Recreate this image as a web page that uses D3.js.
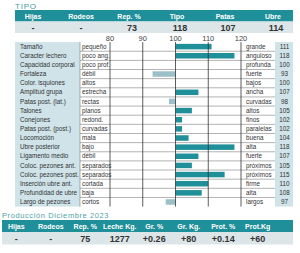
<!DOCTYPE html>
<html><head><meta charset="utf-8">
<script src="https://cdn.jsdelivr.net/npm/d3@7"></script>
<style>
html,body{margin:0;padding:0;background:#fff;}
svg{display:block;font-family:"Liberation Sans Narrow","Liberation Sans",Arial,sans-serif;}
</style></head>
<body>
<svg id="c" width="300" height="253"></svg>
<script>
const topHeaders = ["Hijas","Rodeos","Rep. %","Tipo","Patas","Ubre"];
const topValues = ["-","-","73","118","107","114"];
const traits = ["Tamaño","Caracter lechero","Capacidad corporal","Fortaleza","Color. isquiones","Amplitud grupa","Patas post. (lat.)","Talones","Conejones","Patas post. (post.)","Locomoción","Ubre posterior","Ligamento medio","Coloc. pezones ant.","Coloc. pezones post.","Inserción ubre ant.","Profundidad de ubre","Largo de pezones"];
const lowLabels = ["pequeño","poco ang.","poco prof.","débil","altos","estrecha","rectas","planos","redond.","curvadas","mala","bajo","débil","separados","separados","cortada","baja","cortos"];
const highLabels = ["grande","anguloso","profunda","fuerte","bajos","ancha","curvadas","altos","finos","paralelas","buena","alta","fuerte","próximos","próximos","firme","alta","largos"];
const traitValues = [111,118,100,93,100,107,98,105,102,102,104,118,107,105,115,110,108,97];
const axisTicks = [80,90,100,110,120];
const prodHeaders = ["Hijas","Rodeos","Rep. %","Leche Kg.","Gr. %","Gr. Kg.","Prot. %","Prot.Kg"];
const prodValues = ["-","-","75","1277","+0.26","+80","+0.14","+60"];

const teal = "#1f8f99", light = "#dce6e9", colBg = "#cfe3e9", neg = "#9cc0c9", txt = "#333";
const svg = d3.select("#c");

// Title
svg.append("text").attr("x",15).attr("y",9).attr("font-size",8).attr("fill","#3d9aa1")
  .attr("letter-spacing",0.8).text("TIPO");

// Top header table
const tx = d3.scaleBand().domain(topHeaders).range([9,297]);
svg.append("rect").attr("x",15).attr("y",10).attr("width",278).attr("height",11.5).attr("fill",teal);
svg.append("rect").attr("x",15).attr("y",21.5).attr("width",278).attr("height",11.5).attr("fill",light);
svg.selectAll(".th").data(topHeaders).join("text")
  .attr("x",d=>tx(d)+tx.bandwidth()/2).attr("y",18.5).attr("text-anchor","middle")
  .attr("font-size",7).attr("font-weight","bold").attr("fill","#fff").attr("font-family","Liberation Sans, Arial").text(d=>d);
svg.selectAll(".tv").data(topValues).join("text")
  .attr("x",(d,i)=>tx(topHeaders[i])+tx.bandwidth()/2+ (i>=2?3:0)).attr("y",31).attr("text-anchor","middle")
  .attr("font-size",9).attr("font-weight","bold").attr("fill",txt).attr("font-family","Liberation Sans, Arial").text(d=>d);

// Trait chart
const x = d3.scaleLinear().domain([80,120]).range([110,241]);
const y = d3.scaleBand().domain(traits).range([42.1,206.6]);
const top0 = y.range()[0], bot = y.range()[1];

svg.append("rect").attr("x",15).attr("y",top0).attr("width",65).attr("height",bot-top0).attr("fill",colBg);
svg.append("rect").attr("x",275).attr("y",top0).attr("width",18).attr("height",bot-top0).attr("fill",colBg);

// row lines
svg.selectAll(".rl").data(traits.slice(1)).join("line")
  .attr("x1",80).attr("x2",275).attr("y1",d=>y(d)).attr("y2",d=>y(d))
  .attr("stroke","#666").attr("stroke-width",0.5);

// bars
svg.selectAll(".bar").data(traitValues).join("rect")
  .attr("x",d=>x(Math.min(d,100))).attr("width",d=>Math.abs(x(d)-x(100)))
  .attr("y",(d,i)=>y(traits[i])+y.bandwidth()/2-2.8).attr("height",5.5)
  .attr("fill",d=>d>=100?teal:neg);

// vertical gridlines
svg.selectAll(".gl").data(axisTicks).join("line")
  .attr("x1",d=>x(d)).attr("x2",d=>x(d)).attr("y1",top0).attr("y2",bot)
  .attr("stroke","#333").attr("stroke-width",0.8);
svg.append("line").attr("x1",80).attr("x2",80).attr("y1",top0).attr("y2",bot).attr("stroke","#666").attr("stroke-width",0.5);

// tick labels
svg.selectAll(".tk").data(axisTicks).join("text")
  .attr("x",d=>x(d)).attr("y",40.5).attr("text-anchor","middle")
  .attr("font-size",7.5).attr("fill","#444").text(d=>d);

// labels
svg.selectAll(".tl").data(traits).join("text")
  .attr("x",20).attr("y",d=>y(d)+y.bandwidth()/2+2.1).attr("font-size",6.3).attr("fill",txt).text(d=>d);
svg.selectAll(".ll").data(lowLabels).join("text")
  .attr("x",82).attr("y",(d,i)=>y(traits[i])+y.bandwidth()/2+2.1).attr("font-size",6.3).attr("fill",txt).text(d=>d);
svg.selectAll(".hl").data(highLabels).join("text")
  .attr("x",246).attr("y",(d,i)=>y(traits[i])+y.bandwidth()/2+2.1).attr("font-size",6.3).attr("fill",txt).text(d=>d);
svg.selectAll(".vl").data(traitValues).join("text")
  .attr("x",284.5).attr("y",(d,i)=>y(traits[i])+y.bandwidth()/2+2.1).attr("text-anchor","middle")
  .attr("font-size",6.3).attr("fill",txt).text(d=>d);

// Production
svg.append("text").attr("x",2).attr("y",217.5).attr("font-size",7.5).attr("fill","#4fa2a7")
  .attr("letter-spacing",0.6).attr("font-family","Liberation Sans, Arial").text("Producción Diciembre 2023");
const px = d3.scaleBand().domain(prodHeaders).range([-1,275]);
svg.append("rect").attr("x",2).attr("y",220).attr("width",291).attr("height",12).attr("fill",teal);
svg.append("rect").attr("x",2).attr("y",232).attr("width",291).attr("height",12.5).attr("fill",light);
svg.selectAll(".ph").data(prodHeaders).join("text")
  .attr("x",d=>px(d)+px.bandwidth()/2).attr("y",228.8).attr("text-anchor","middle")
  .attr("font-size",7).attr("font-weight","bold").attr("fill","#fff").attr("font-family","Liberation Sans, Arial").text(d=>d);
svg.selectAll(".pv").data(prodValues).join("text")
  .attr("x",(d,i)=>px(prodHeaders[i])+px.bandwidth()/2).attr("y",241.5).attr("text-anchor","middle")
  .attr("font-size",9).attr("font-weight","bold").attr("fill",txt).attr("font-family","Liberation Sans, Arial").text(d=>d);
</script>
</body></html>
